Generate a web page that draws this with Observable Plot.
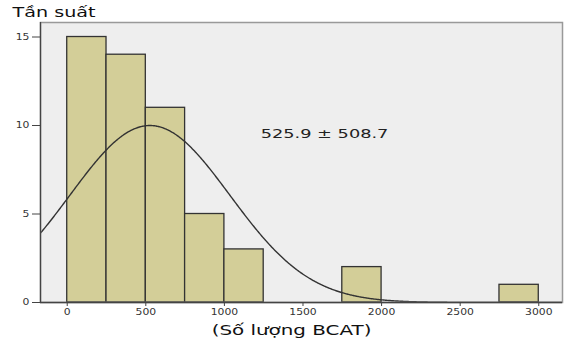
<!DOCTYPE html>
<html><head><meta charset="utf-8">
<script src="https://cdn.jsdelivr.net/npm/d3@7"></script>
<script src="https://cdn.jsdelivr.net/npm/@observablehq/plot@0.6"></script>
<style>body{margin:0;background:#fff;} #chart{width:564px;height:340px;}</style>
</head><body><div id="chart"></div>
<script>
// Histogram bins and counts
const binStart = [0, 250, 500, 750, 1000, 1750, 2750];
const binEnd   = [250, 500, 750, 1000, 1250, 2000, 3000];
const counts   = [15, 14, 11, 5, 3, 2, 1];
// Summary statistics (normal curve)
const meanValue = 525.9;
const sdValue = 508.7;
// Ticks and labels
const xTicks = [0, 500, 1000, 1500, 2000, 2500, 3000];
const yTicks = [0, 5, 10, 15];
const yTitle = "Tần suất";
const xTitle = "(Số lượng BCAT)";
const statsLabel = "525.9 ± 508.7";

const bars = binStart.map((s, i) => ({x1: s, x2: binEnd[i], y: counts[i]}));
const N = d3.sum(counts);
const binWidth = binEnd[0] - binStart[0];
const xDomain = [-170, 3151];
const curve = d3.range(xDomain[0], xDomain[1] + 5, 5).map(x => ({
  x, y: N * binWidth * Math.exp(-0.5 * ((x - meanValue) / sdValue) ** 2) / (sdValue * Math.sqrt(2 * Math.PI))
}));

const chart = Plot.plot({
  width: 564, height: 340,
  marginLeft: 40, marginRight: 2, marginTop: 22, marginBottom: 38,
  style: {fontFamily: "DejaVu Sans", background: "#fff", color: "#333"},
  x: {domain: xDomain, ticks: xTicks, tickFormat: d => String(d), label: null},
  y: {domain: [0, 15.82], ticks: yTicks, tickFormat: d => String(d), label: null},
  marks: [
    Plot.frame({fill: "#EEEEEE", stroke: null}),
    Plot.rectY(bars, {x1: "x1", x2: "x2", y: "y", fill: "#D3CE98", stroke: "#333", strokeWidth: 1.3, inset: 0}),
    Plot.line(curve, {x: "x", y: "y", stroke: "#333", strokeWidth: 1.4, clip: true}),
    Plot.frame({stroke: "#999", strokeWidth: 1.5}),
    Plot.ruleX([xDomain[0]], {stroke: "#444", strokeWidth: 1.3}),
    Plot.ruleY([0], {stroke: "#444", strokeWidth: 1.3}),
    Plot.axisX({ticks: xTicks, tickSize: 4, tickPadding: 2, fontSize: 9, stroke: "#444", fill: "#333", tickFormat: d => String(d), label: null}),
    Plot.axisY({ticks: yTicks, tickSize: 8, tickPadding: 3, fontSize: 9, stroke: "#444", fill: "#333", tickFormat: d => String(d), label: null}),
    Plot.text([statsLabel], {x: 1637, y: 9.53, text: d => d, fontSize: 12.5, fill: "#222", textAnchor: "middle", lineAnchor: "middle"}),
    Plot.text([yTitle], {frameAnchor: "top-left", dx: -28, dy: -9.5, text: d => d, fontSize: 13.5, fill: "#111", textAnchor: "start", lineAnchor: "middle"}),
    Plot.text([xTitle], {frameAnchor: "bottom", dx: -10, dy: 28, text: d => d, fontSize: 14, fill: "#111", textAnchor: "middle", lineAnchor: "middle"})
  ]
});
document.getElementById("chart").appendChild(chart);
// Widen text horizontally to match reference's stretched glyphs
const bigTexts = new Set([statsLabel, yTitle, xTitle]);
chart.querySelectorAll("text").forEach(t => {
  const k = bigTexts.has(t.textContent) ? 1.42 : 1.2;
  const tr = t.getAttribute("transform") || "";
  t.setAttribute("transform", tr + ` scale(${k},1)`);
});
</script>
</body></html>
